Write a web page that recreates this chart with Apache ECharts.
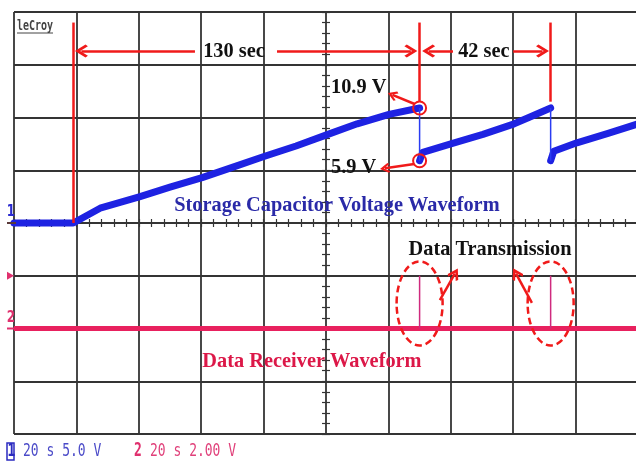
<!DOCTYPE html>
<html>
<head>
<meta charset="utf-8">
<script src="https://cdn.jsdelivr.net/npm/echarts@6/dist/echarts.min.js"></script>
<style>
  html, body { margin: 0; padding: 0; background: #fff; }
  #c { width: 636px; height: 464px; }
</style>
</head>
<body>
<div id="c"></div>
<script>
// Channel 1: storage capacitor voltage (V) vs time (s); 20 s/div, 5 V/div
const capTime = [0, 19, 27.6, 40.4, 50, 60.3, 70.2, 80.1, 90.4, 100.6, 110, 120.2, 130,
                 130, 131, 140, 150.3, 160.3, 165, 172,
                 172, 173, 180.4, 190.4, 200];
const capVolt = [0, 0, 1.4, 2.5, 3.4, 4.3, 5.3, 6.3, 7.3, 8.4, 9.4, 10.3, 10.9,
                 5.9, 6.7, 7.5, 8.4, 9.4, 10.0, 10.9,
                 5.9, 6.8, 7.6, 8.5, 9.4];
// Channel 2: data receiver output (V); 2 V/div
const rxTime = [0, 200];
const rxVolt = [0, 0];
const pulseTime = [130, 172];
const pulseVolt = [2, 2];
// Annotated quantities
const chargeStart = 19;
const peakVolt = 10.9;
const dropVolt = 5.9;

const GRID = '#343434';
const RED = '#f01a1a';
const SERIF = '"Liberation Serif", "Times New Roman", serif';
const CHEV = 'path://M0,0L11,11L8,13.5L0,5.5L-8,13.5L-11,11Z';

// split the capacitor trace into ramps at each discharge step
function ramps(ts, vs) {
  const segs = [[]];
  for (let i = 0; i < ts.length; i++) {
    if (i > 0 && ts[i] === ts[i - 1]) segs.push([]);
    segs[segs.length - 1].push([ts[i], vs[i]]);
  }
  return segs;
}
function steps(ts, vs) {
  const d = [];
  for (let i = 1; i < ts.length; i++) {
    if (ts[i] === ts[i - 1]) d.push([[ts[i], vs[i - 1]], [ts[i], vs[i]]]);
  }
  return d;
}

const series = [];
ramps(capTime, capVolt).forEach(seg => series.push({
  type: 'line', xAxisIndex: 0, yAxisIndex: 0, data: seg, showSymbol: false, silent: true,
  lineStyle: { color: '#1e22e2', width: 7, join: 'round', cap: 'round' }, z: 2
}));
steps(capTime, capVolt).forEach(seg => series.push({
  type: 'line', xAxisIndex: 0, yAxisIndex: 0, data: seg, showSymbol: false, silent: true,
  lineStyle: { color: '#2a3cf2', width: 1.5 }, z: 2
}));
series.push({
  type: 'line', xAxisIndex: 0, yAxisIndex: 1, showSymbol: false, silent: true,
  data: rxTime.map((t, i) => [t, rxVolt[i]]),
  lineStyle: { color: '#e8215e', width: 5 }, z: 2
});
pulseTime.forEach((t, i) => series.push({
  type: 'line', xAxisIndex: 0, yAxisIndex: 1, showSymbol: false, silent: true,
  data: [[t, rxVolt[0]], [t, pulseVolt[i]]],
  lineStyle: { color: '#cf2a7e', width: 1.5 }, z: 2
}));

// red dimension lines, markers and pointers on channel 1
const ARW = 16.3;
const seg = (a, b, endSym, size) => [
  { coord: a, symbol: 'none' },
  { coord: b, symbol: endSym || 'none', symbolSize: size || 13 }
];
series.push({
  type: 'line', xAxisIndex: 0, yAxisIndex: 0, data: [], silent: true, z: 4,
  markLine: {
    silent: true, animation: false, symbol: ['none', 'none'],
    label: { show: false },
    lineStyle: { color: RED, width: 2.5, type: 'solid' },
    data: [
      seg([chargeStart, 19], [chargeStart, 0]),
      seg([pulseTime[0], 19], [pulseTime[0], 11.5]),
      seg([pulseTime[1], 19], [pulseTime[1], 11.5]),
      seg([58, ARW], [21.6, ARW], CHEV),
      seg([84.3, ARW], [127.2, ARW], CHEV),
      seg([140.7, ARW], [132.9, ARW], CHEV),
      seg([160, ARW], [169.4, ARW], CHEV),
      seg([128.4, 11.28], [121.3, 12.14], CHEV, 10),
      seg([128.3, 5.59], [118.9, 5.18], CHEV, 10)
    ]
  },
  markPoint: {
    silent: true, animation: false, label: { show: false },
    data: [
      { coord: [pulseTime[0], peakVolt], symbol: 'circle', symbolSize: 13,
        itemStyle: { color: 'rgba(0,0,0,0)', borderColor: RED, borderWidth: 2 } },
      { coord: [pulseTime[0], dropVolt], symbol: 'circle', symbolSize: 13,
        itemStyle: { color: 'rgba(0,0,0,0)', borderColor: RED, borderWidth: 2 } }
    ]
  }
});
// pointers to the transmission pulses on channel 2
series.push({
  type: 'line', xAxisIndex: 0, yAxisIndex: 1, data: [], silent: true, z: 4,
  markLine: {
    silent: true, animation: false, symbol: ['none', 'none'],
    label: { show: false },
    lineStyle: { color: RED, width: 2.5, type: 'solid' },
    data: [
      seg([136.5, 1.08], [141.3, 2.08], CHEV, 12),
      seg([166, 0.97], [160.9, 2.08], CHEV, 12)
    ]
  }
});

const tickAxis = (inside) => ({
  type: 'value', min: -20, max: 20, interval: 5, position: 'left', offset: -312,
  axisLine: { show: false },
  axisTick: { show: true, inside: inside, length: 4, lineStyle: { color: GRID, width: 1.2 } },
  minorTick: { show: true, splitNumber: 5, length: 4, lineStyle: { color: GRID, width: 1.2 } },
  axisLabel: { show: false }, splitLine: { show: false }
});
const centerX = (inside, split) => ({
  type: 'value', min: 0, max: 200, interval: 20, position: 'bottom',
  axisLine: { show: true, onZero: true, onZeroAxisIndex: 0, lineStyle: { color: GRID, width: 1.8 } },
  axisTick: { show: true, inside: inside, length: 4, lineStyle: { color: GRID, width: 1.2 } },
  minorTick: { show: true, splitNumber: 5, length: 4, lineStyle: { color: GRID, width: 1.2 } },
  axisLabel: { show: false },
  splitLine: { show: split, lineStyle: { color: GRID, width: 1.8 } }
});

const option = {
  animation: false,
  backgroundColor: '#ffffff',
  grid: { left: 14, top: 12, width: 624, height: 422, outerBoundsMode: 'none' },
  xAxis: [centerX(true, true), centerX(false, false)],
  yAxis: [
    { type: 'value', min: -20, max: 20, interval: 5,
      axisLine: { show: false }, axisTick: { show: false }, axisLabel: { show: false },
      splitLine: { show: true, lineStyle: { color: GRID, width: 1.8 } } },
    { type: 'value', min: -4, max: 12, interval: 2,
      axisLine: { show: false }, axisTick: { show: false }, axisLabel: { show: false },
      splitLine: { show: false } },
    tickAxis(true),
    tickAxis(false)
  ],
  series: series
};

const chart = echarts.init(document.getElementById('c'), null, { renderer: 'canvas' });
chart.setOption(option);

const p1 = v => chart.convertToPixel({ xAxisIndex: 0, yAxisIndex: 0 }, v);
const p2 = v => chart.convertToPixel({ xAxisIndex: 0, yAxisIndex: 1 }, v);

function label(pos, text, color, align) {
  return {
    type: 'text', x: pos[0], y: pos[1], scaleX: 0.925, z: 100, silent: true,
    style: { text: text, font: 'bold 22px ' + SERIF, fill: color,
             align: align || 'center', verticalAlign: 'middle' }
  };
}
function mono(x, y, text, color, bold, sy) {
  return {
    type: 'text', x: x, y: y, scaleY: sy || 1.35, z: 100, silent: true,
    style: { text: text, font: (bold ? 'bold ' : '') + '13px "DejaVu Sans Mono"', fill: color,
             align: 'left', verticalAlign: 'middle' }
  };
}

const g1 = p1([0, 0]);
const g2 = p2([0, 0]);
const trig = p2([0, 2]);
const graphic = [
  label(p1([70.5, ARW]), pulseTime[0] + ' sec', '#111'),
  label(p1([150.6, ARW]), (pulseTime[1] - pulseTime[0]) + ' sec', '#111'),
  label(p1([101.6, 12.9]), peakVolt.toFixed(1) + ' V', '#111', 'left'),
  label(p1([101.6, 5.3]), dropVolt.toFixed(1) + ' V', '#111', 'left'),
  label(p1([103.5, 1.7]), 'Storage Capacitor Voltage Waveform', '#2a2aa8'),
  label(p2([152.6, 3.0]), 'Data Transmission', '#111'),
  label(p2([95.5, -1.25]), 'Data Receiver Waveform', '#dc1848')
];
pulseTime.forEach((t, i) => {
  const c = p2([t, 0.95]);
  graphic.push({
    type: 'ellipse', z: 99, silent: true,
    shape: { cx: c[0], cy: c[1], rx: 23, ry: 42 },
    style: { fill: 'none', stroke: RED, lineWidth: 2.5, lineDash: [7, 4] }
  });
});

// channel markers at the left edge of the graticule
graphic.push(
  { type: 'text', x: 11, y: g1[1] - 11, scaleY: 1.3, z: 100, silent: true,
    style: { text: '1', font: 'bold 12px "DejaVu Sans"', fill: '#2a2ad0', align: 'center', verticalAlign: 'middle' } },
  { type: 'line', z: 100, silent: true, shape: { x1: 7, y1: g1[1], x2: 16, y2: g1[1] },
    style: { stroke: '#5a3a3a', lineWidth: 2 } },
  { type: 'polygon', z: 100, silent: true,
    shape: { points: [[7, trig[1] - 4], [14, trig[1]], [7, trig[1] + 4]] },
    style: { fill: '#e0306e' } },
  { type: 'text', x: 11, y: g2[1] - 11, scaleY: 1.3, z: 100, silent: true,
    style: { text: '2', font: 'bold 12px "DejaVu Sans"', fill: '#e0306e', align: 'center', verticalAlign: 'middle' } },
  { type: 'line', z: 100, silent: true, shape: { x1: 7, y1: g2[1], x2: 14, y2: g2[1] },
    style: { stroke: '#e0306e', lineWidth: 2 } }
);

// instrument logo and status line
graphic.push(
  { type: 'text', x: 17, y: 26, scaleY: 1.35, z: 100, silent: true,
    style: { text: 'leCroy', font: 'bold 10px "DejaVu Sans Mono"', fill: '#444', align: 'left', verticalAlign: 'middle' } },
  { type: 'line', z: 100, silent: true, shape: { x1: 17, y1: 33, x2: 53, y2: 33 },
    style: { stroke: '#444', lineWidth: 1 } },
  { type: 'rect', z: 100, silent: true, shape: { x: 7, y: 443, width: 7, height: 17 },
    style: { fill: 'none', stroke: '#2a2ac0', lineWidth: 1.5 } },
  mono(7.5, 451.5, '1', '#2a2ac0', true, 1.3),
  mono(23, 451, '20 s 5.0 V', '#4a4ac8'),
  mono(134, 451, '2', '#e0306e', true, 1.5),
  mono(150, 451, '20 s 2.00 V', '#e0407a')
);

chart.setOption({ graphic: graphic });
</script>
</body>
</html>
